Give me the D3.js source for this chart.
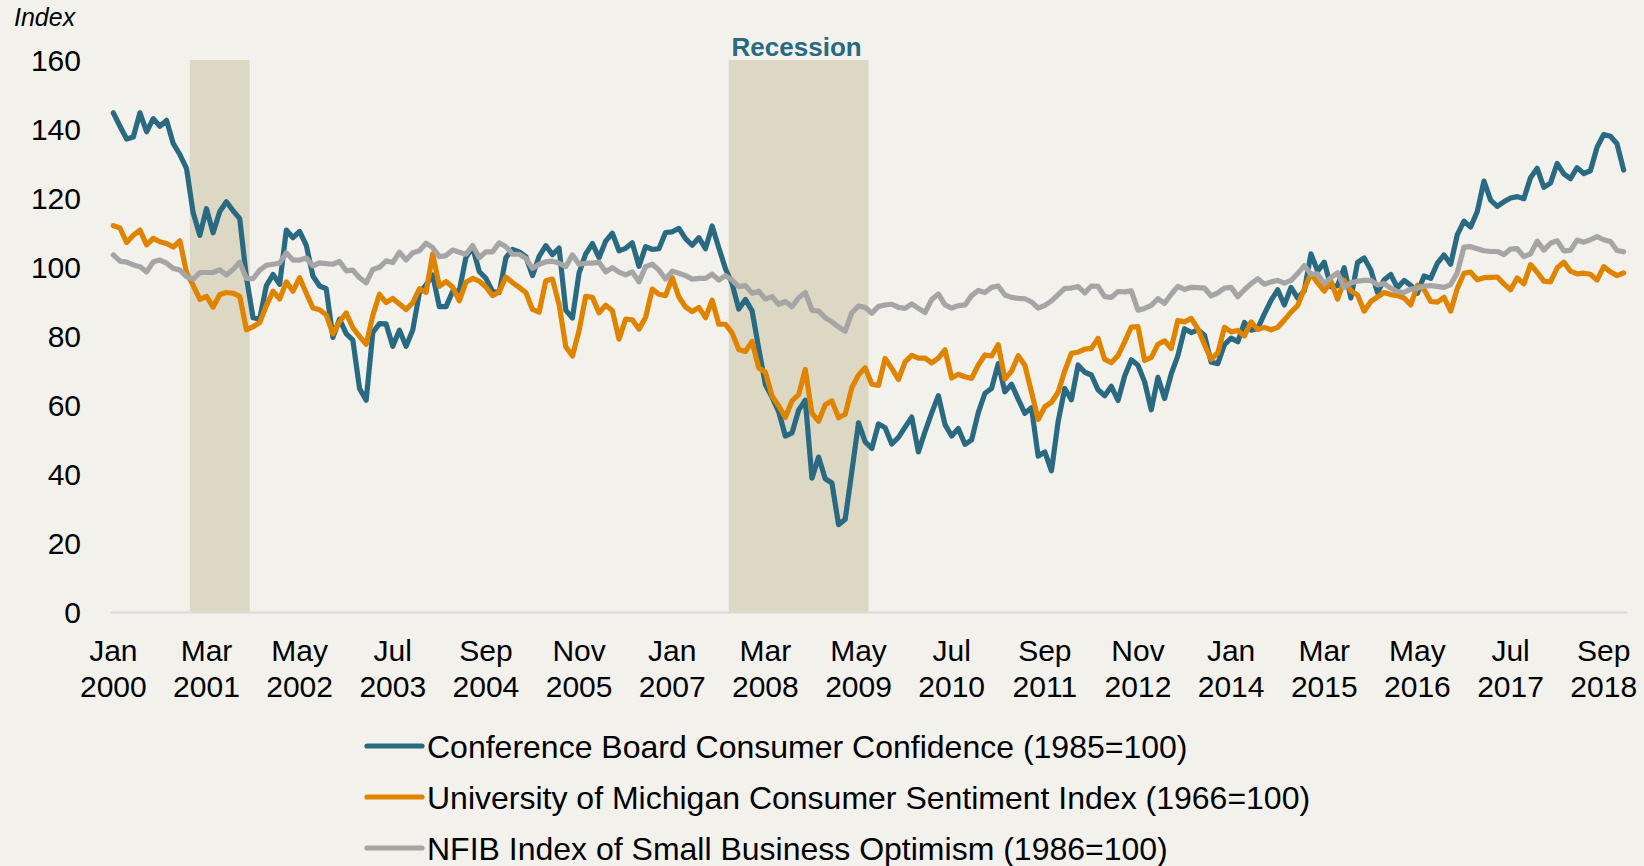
<!DOCTYPE html>
<html>
<head>
<meta charset="utf-8">
<script src="https://cdn.jsdelivr.net/npm/d3@7"></script>
<style>
    html, body { margin: 0; padding: 0; background: #f2f1ec; }
    svg { display: block; font-family: Arial, 'Liberation Sans', sans-serif; }
</style>
</head>
<body>
<div id="chart"></div>
<script>
// categories: one per month, Jan 2000 .. Dec 2018
const years = d3.range(2000, 2019)
const monthNames = ['Jan', 'Feb', 'Mar', 'Apr', 'May', 'Jun', 'Jul', 'Aug', 'Sep', 'Oct', 'Nov', 'Dec']
const months = years.flatMap((yr) => monthNames.map((m) => `${m} ${yr}`))

const tickMonths = ['Jan 2000', 'Mar 2001', 'May 2002', 'Jul 2003', 'Sep 2004', 'Nov 2005', 'Jan 2007', 'Mar 2008', 'May 2009',
    'Jul 2010', 'Sep 2011', 'Nov 2012', 'Jan 2014', 'Mar 2015', 'May 2016', 'Jul 2017', 'Sep 2018']
const yTicks = [0, 20, 40, 60, 80, 100, 120, 140, 160]

// shaded recession months (first, last)
const recessions = [['Jan 2001', 'Sep 2001'], ['Oct 2007', 'Jun 2009']]

const confBoard = [
    144.7, 140.8, 137.1, 137.7, 144.7, 139.2, 143.0, 140.8, 142.5, 135.8, 132.6, 128.6,
    115.7, 109.2, 116.9, 109.9, 116.1, 118.9, 116.3, 114.0, 97.0, 85.3, 84.9, 94.6,
    97.8, 95.0, 110.7, 108.5, 110.3, 106.3, 97.4, 94.5, 93.7, 79.6, 84.9, 80.7,
    78.8, 64.8, 61.4, 81.0, 83.6, 83.5, 77.0, 81.7, 77.0, 81.7, 92.5, 94.8,
    97.7, 88.5, 88.5, 93.0, 93.1, 102.8, 105.7, 98.7, 96.7, 92.9, 92.6, 102.7,
    105.1, 104.4, 103.0, 97.5, 103.1, 106.2, 103.6, 105.5, 87.5, 85.2, 98.3, 103.8,
    106.8, 102.7, 107.5, 109.8, 104.7, 105.4, 107.0, 100.2, 105.9, 105.1, 105.3, 110.0,
    110.2, 111.2, 108.2, 106.3, 108.5, 105.3, 111.9, 105.6, 99.5, 95.2, 87.8, 90.6,
    87.3, 76.4, 65.9, 62.3, 58.1, 51.0, 51.9, 58.5, 61.4, 38.8, 44.9, 38.6,
    37.4, 25.3, 26.9, 40.8, 54.8, 49.3, 47.4, 54.5, 53.4, 48.7, 50.6, 53.6,
    56.5, 46.4, 52.3, 57.7, 62.7, 54.3, 51.0, 53.2, 48.6, 49.9, 57.8, 63.4,
    64.8, 72.0, 63.8, 66.0, 61.7, 57.6, 59.2, 45.2, 46.4, 40.9, 55.2, 64.8,
    61.5, 71.6, 69.5, 68.7, 64.4, 62.7, 65.4, 61.3, 68.4, 73.1, 71.5, 66.7,
    58.6, 68.0, 61.9, 69.0, 74.3, 82.1, 81.0, 81.8, 80.2, 72.4, 72.0, 77.5,
    79.4, 78.3, 83.9, 81.7, 82.2, 86.4, 90.3, 93.4, 89.0, 94.1, 91.0, 93.1,
    103.8, 98.8, 101.4, 94.3, 94.6, 99.8, 91.0, 101.3, 102.6, 99.1, 92.6, 96.3,
    97.8, 94.0, 96.1, 94.7, 92.4, 97.4, 96.7, 101.1, 103.5, 100.8, 109.4, 113.3,
    111.6, 116.1, 124.9, 119.4, 117.6, 118.9, 120.0, 120.4, 119.8, 125.9, 128.6, 123.1,
    124.3, 130.0, 127.0, 125.6, 128.8, 127.1, 127.9, 134.7, 138.4, 137.9, 135.7, 128.1
]

const michigan = [
    112.0, 111.3, 107.1, 109.2, 110.7, 106.4, 108.3, 107.3, 106.8, 105.8, 107.6, 98.4,
    94.7, 90.6, 91.5, 88.4, 92.0, 92.6, 92.4, 91.5, 81.8, 82.7, 83.9, 88.8,
    93.0, 90.7, 95.7, 93.0, 96.9, 92.4, 88.1, 87.6, 86.1, 80.6, 84.2, 86.7,
    82.4, 79.9, 77.6, 86.0, 92.1, 89.7, 90.9, 89.3, 87.7, 89.6, 93.7, 92.6,
    103.8, 94.4, 95.8, 94.2, 90.2, 95.6, 96.7, 95.9, 94.2, 91.7, 92.8, 97.1,
    95.5, 94.1, 92.6, 87.7, 86.9, 96.0, 96.5, 89.1, 76.9, 74.2, 81.6, 91.5,
    91.2, 86.7, 88.9, 87.4, 79.1, 84.9, 84.7, 82.0, 85.4, 93.6, 92.1, 91.7,
    96.9, 91.3, 88.4, 87.1, 88.3, 85.3, 90.4, 83.4, 83.4, 80.9, 76.1, 75.5,
    78.4, 70.8, 69.5, 62.6, 59.8, 56.4, 61.2, 63.0, 70.3, 57.6, 55.3, 60.1,
    61.2, 56.3, 57.3, 65.1, 68.7, 70.8, 66.0, 65.7, 73.5, 70.6, 67.4, 72.5,
    74.4, 73.6, 73.6, 72.2, 73.6, 76.0, 67.8, 68.9, 68.2, 67.7, 71.6, 74.5,
    74.2, 77.5, 67.5, 69.8, 74.3, 71.5, 63.7, 55.8, 59.5, 60.8, 63.7, 69.9,
    75.0, 75.3, 76.2, 76.4, 79.3, 73.2, 72.3, 74.3, 78.3, 82.6, 82.7, 72.9,
    73.8, 77.6, 78.6, 76.4, 84.5, 84.1, 85.1, 82.1, 77.5, 73.2, 75.1, 82.5,
    81.2, 81.6, 80.0, 84.1, 81.9, 82.5, 81.8, 82.5, 84.6, 86.9, 88.8, 93.6,
    98.1, 95.4, 93.0, 95.9, 90.7, 96.1, 93.1, 91.9, 87.2, 90.0, 91.3, 92.6,
    92.0, 91.7, 91.0, 89.0, 94.7, 93.5, 90.0, 89.8, 91.2, 87.2, 93.8, 98.2,
    98.5, 96.3, 96.9, 97.0, 97.1, 95.1, 93.4, 96.8, 95.1, 100.7, 98.5, 95.9,
    95.7, 99.7, 101.4, 98.8, 98.0, 98.2, 97.9, 96.2, 100.1, 98.6, 97.5, 98.3
]

const nfib = [
    103.5, 101.7, 101.4, 100.6, 100.1, 98.6, 101.5, 102.0, 101.1, 99.6, 99.1, 97.2,
    96.5, 98.4, 98.4, 98.4, 99.2, 97.7, 99.3, 101.4, 96.7, 96.6, 99.1, 100.5,
    100.8, 101.1, 104.1, 102.0, 102.0, 102.6, 100.3, 101.2, 101.0, 100.8, 101.6, 98.9,
    99.1, 96.9, 95.4, 99.3, 99.9, 101.8, 101.3, 104.3, 102.0, 104.1, 104.7, 106.9,
    105.6, 103.0, 103.3, 104.9, 104.3, 103.7, 106.2, 102.7, 104.4, 104.4, 107.0, 105.9,
    103.7, 103.7, 102.5, 99.6, 100.8, 101.5, 101.7, 101.1, 100.1, 103.5, 100.8, 101.1,
    101.1, 101.4, 98.6, 99.8, 98.5, 97.7, 98.6, 95.7, 100.1, 100.8, 99.1, 96.5,
    98.8, 98.2, 97.5, 96.5, 96.7, 96.7, 97.9, 96.2, 97.5, 96.2, 94.3, 94.6,
    92.4, 93.0, 90.7, 91.4, 89.2, 90.0, 88.5, 91.1, 92.6, 87.5, 87.2, 85.3,
    84.1, 82.6, 81.4, 86.8, 88.7, 88.3, 86.6, 88.6, 89.0, 89.2, 88.3, 88.0,
    89.3, 88.0, 86.8, 90.6, 92.2, 89.0, 88.1, 88.8, 89.0, 91.7, 93.2, 92.6,
    94.1, 94.5, 91.9, 91.2, 90.9, 90.8, 89.9, 88.1, 88.9, 90.2, 92.0, 93.8,
    93.9, 94.3, 92.5, 94.5, 94.4, 91.4, 91.2, 92.9, 92.8, 93.1, 87.5, 88.0,
    88.9, 90.8, 89.5, 92.1, 94.4, 93.5, 94.1, 94.0, 93.9, 91.6, 92.5, 93.9,
    94.1, 91.4, 93.4, 95.2, 96.6, 95.0, 95.7, 96.1, 95.3, 96.1, 98.1, 100.4,
    97.9, 98.0, 95.2, 96.9, 98.3, 94.1, 95.4, 95.9, 96.1, 96.1, 94.8, 95.2,
    93.9, 92.9, 92.6, 93.6, 93.8, 94.5, 94.6, 94.4, 94.1, 94.9, 98.4, 105.8,
    105.9, 105.3, 104.7, 104.5, 104.5, 103.6, 105.2, 105.3, 103.0, 103.8, 107.5, 104.9,
    106.9, 107.6, 104.7, 104.8, 107.8, 107.2, 107.9, 108.8, 107.9, 107.4, 104.8, 104.4
]

const seriesNames = [
    'Conference Board Consumer Confidence (1985=100)',
    'University of Michigan Consumer Sentiment Index (1966=100)',
    'NFIB Index of Small Business Optimism (1986=100)'
]
const seriesColors = ['#296a82', '#e08400', '#a5a5a5']
const series = [confBoard, michigan, nfib].map((values, i) => ({ name: seriesNames[i], values, color: seriesColors[i] }))

const width = 1644
const height = 866
const plot = { left: 110, right: 1627, top: 60, bottom: 612 }

const svg = d3.select(`#chart`).append(`svg`).attr(`width`, width).attr(`height`, height)
svg.append(`rect`).attr(`width`, width).attr(`height`, height).attr(`fill`, `#f2f1ec`)

const x = d3.scaleBand().domain(months).range([plot.left, plot.right])
const y = d3.scaleLinear().domain([0, 160]).range([plot.bottom, plot.top])
const cx = (m) => x(m) + x.bandwidth() / 2

// recession shading
svg.append(`g`)
    .selectAll(`rect`)
    .data(recessions)
    .join(`rect`)
    .attr(`x`, (d) => x(d[0]))
    .attr(`width`, (d) => x(d[1]) + x.bandwidth() - x(d[0]))
    .attr(`y`, y(160))
    .attr(`height`, y(0) - y(160))
    .attr(`fill`, `#ddd8c3`)

const big = recessions[1]
svg.append(`text`)
    .attr(`x`, (x(big[0]) + x(big[1]) + x.bandwidth()) / 2 - 2)
    .attr(`y`, 56)
    .attr(`text-anchor`, `middle`)
    .attr(`font-size`, 26)
    .attr(`font-weight`, `bold`)
    .attr(`fill`, seriesColors[0])
    .text(`Recession`)

// y axis
const yAxis = d3.axisLeft(y).tickValues(yTicks).tickSize(0).tickPadding(29)
svg.append(`g`)
    .attr(`transform`, `translate(${plot.left}, 0)`)
    .call(yAxis)
    .call((g) => g.select(`.domain`).remove())
    .call((g) => g.selectAll(`text`).attr(`font-size`, 30).attr(`font-family`, null).attr(`fill`, `#000`).attr(`dy`, `0.36em`))

// x axis
const xAxis = d3.axisBottom(x).tickValues(tickMonths).tickSize(0).tickSizeOuter(0)
svg.append(`g`)
    .attr(`transform`, `translate(0, ${plot.bottom})`)
    .call(xAxis)
    .call((g) => g.select(`.domain`).attr(`stroke`, `#d9d9d9`).attr(`stroke-width`, 2))
    .call((g) =>
        g
            .selectAll(`.tick text`)
            .text(null)
            .attr(`dy`, null)
            .attr(`y`, 0)
            .attr(`font-size`, 30)
            .attr(`font-family`, null)
            .attr(`fill`, `#000`)
            .selectAll(`tspan`)
            .data((d) => d.split(' '))
            .join(`tspan`)
            .attr(`x`, 0)
            .attr(`y`, (d, i) => 49 + i * 36)
            .text((d) => d)
    )

// lines
const line = d3
    .line()
    .x((d, i) => cx(months[i]))
    .y((d) => y(d))

svg.append(`g`)
    .selectAll(`path`)
    .data(series)
    .join(`path`)
    .attr(`d`, (d) => line(d.values))
    .attr(`fill`, `none`)
    .attr(`stroke`, (d) => d.color)
    .attr(`stroke-width`, 5.2)
    .attr(`stroke-linejoin`, `round`)
    .attr(`stroke-linecap`, `round`)

// axis title
svg.append(`text`).attr(`x`, 14).attr(`y`, 26).attr(`font-size`, 25).attr(`font-style`, `italic`).text(`Index`)

// legend
const legend = svg
    .append(`g`)
    .selectAll(`g`)
    .data(series)
    .join(`g`)
    .attr(`transform`, (d, i) => `translate(367, ${746 + i * 51})`)

legend.append(`line`).attr(`x1`, 0).attr(`x2`, 55).attr(`stroke`, (d) => d.color).attr(`stroke-width`, 5.2).attr(`stroke-linecap`, `round`)
legend
    .append(`text`)
    .attr(`x`, 60)
    .attr(`dy`, `0.36em`)
    .attr(`font-size`, 32)
    .text((d) => d.name)
</script>
</body>
</html>
